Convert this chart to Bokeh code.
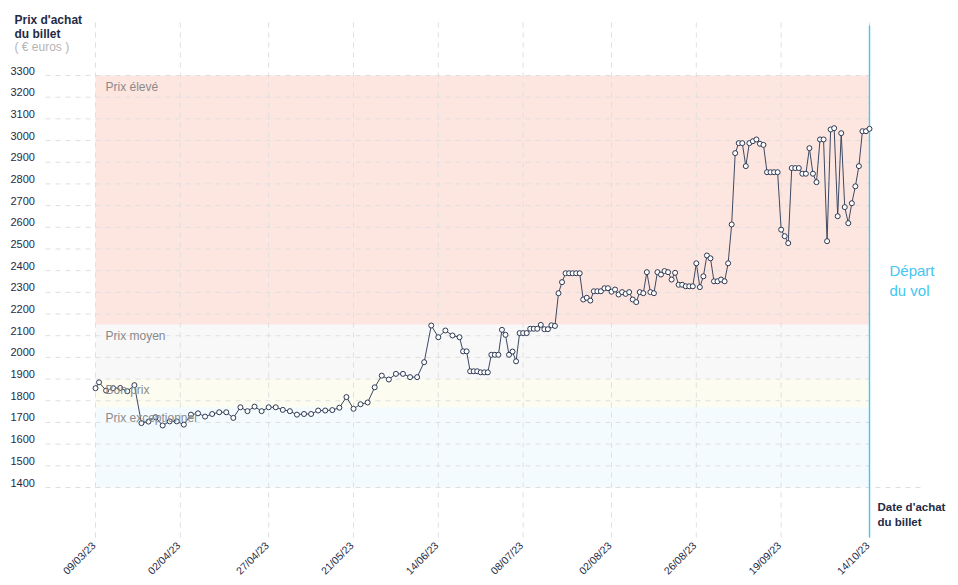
import math
import pandas as pd
from bokeh.plotting import figure
from bokeh.models import Range1d, Label
from bokeh.embed import file_html
from bokeh.resources import INLINE

# ---------------- data ----------------
purchase_dates = [
    "2023-03-09", "2023-03-10", "2023-03-12", "2023-03-14", "2023-03-16", "2023-03-18", "2023-03-20",
    "2023-03-22", "2023-03-24", "2023-03-26", "2023-03-28", "2023-03-30",
    "2023-04-01", "2023-04-03", "2023-04-05", "2023-04-07", "2023-04-09", "2023-04-11", "2023-04-13",
    "2023-04-15", "2023-04-17", "2023-04-19", "2023-04-21", "2023-04-23", "2023-04-25", "2023-04-27",
    "2023-04-29",
    "2023-05-01", "2023-05-03", "2023-05-05", "2023-05-07", "2023-05-09", "2023-05-11", "2023-05-13",
    "2023-05-15", "2023-05-17", "2023-05-19", "2023-05-21", "2023-05-23", "2023-05-25", "2023-05-27",
    "2023-05-29", "2023-05-31",
    "2023-06-02", "2023-06-04", "2023-06-06", "2023-06-08", "2023-06-10", "2023-06-12", "2023-06-14",
    "2023-06-16", "2023-06-18", "2023-06-20",
    "2023-06-21", "2023-06-22", "2023-06-23", "2023-06-24", "2023-06-25", "2023-06-26", "2023-06-27",
    "2023-06-28", "2023-06-29", "2023-06-30",
    "2023-07-01", "2023-07-02", "2023-07-03", "2023-07-04", "2023-07-05", "2023-07-06", "2023-07-07",
    "2023-07-08", "2023-07-09", "2023-07-10", "2023-07-11", "2023-07-12", "2023-07-13", "2023-07-14",
    "2023-07-15", "2023-07-16", "2023-07-17", "2023-07-18", "2023-07-19", "2023-07-20", "2023-07-21",
    "2023-07-22", "2023-07-23", "2023-07-24", "2023-07-25", "2023-07-26", "2023-07-27", "2023-07-28",
    "2023-07-29", "2023-07-30", "2023-07-31",
    "2023-08-01", "2023-08-02", "2023-08-03", "2023-08-04", "2023-08-05", "2023-08-06", "2023-08-07",
    "2023-08-08", "2023-08-09", "2023-08-10", "2023-08-11", "2023-08-12", "2023-08-13", "2023-08-14",
    "2023-08-15", "2023-08-16", "2023-08-17", "2023-08-18", "2023-08-19", "2023-08-20", "2023-08-21",
    "2023-08-22", "2023-08-23", "2023-08-24", "2023-08-25", "2023-08-26", "2023-08-27", "2023-08-28",
    "2023-08-29", "2023-08-30", "2023-08-31",
    "2023-09-01", "2023-09-02", "2023-09-03", "2023-09-04", "2023-09-05", "2023-09-06", "2023-09-07",
    "2023-09-08", "2023-09-09", "2023-09-10", "2023-09-11", "2023-09-12", "2023-09-13", "2023-09-14",
    "2023-09-15", "2023-09-16", "2023-09-17", "2023-09-18", "2023-09-19", "2023-09-20", "2023-09-21",
    "2023-09-22", "2023-09-23", "2023-09-24", "2023-09-25", "2023-09-26", "2023-09-27", "2023-09-28",
    "2023-09-29", "2023-09-30",
    "2023-10-01", "2023-10-02", "2023-10-03", "2023-10-04", "2023-10-05", "2023-10-06", "2023-10-07",
    "2023-10-08", "2023-10-09", "2023-10-10", "2023-10-11", "2023-10-12", "2023-10-13", "2023-10-14",
]

prices = [
    1858, 1885, 1847, 1858, 1859, 1844, 1872,
    1697, 1704, 1724, 1686, 1705,
    1705, 1690, 1736, 1742, 1727, 1739, 1747,
    1747, 1721, 1770, 1752, 1773, 1752, 1770,
    1770,
    1758, 1752, 1736, 1739, 1739, 1755, 1755,
    1757, 1768, 1817, 1763, 1784, 1792, 1862,
    1916, 1898,
    1924, 1924, 1909, 1909, 1978, 2147, 2093,
    2124, 2101, 2093,
    2028, 2028, 1936, 1936, 1936, 1931, 1931,
    1931, 2012, 2012,
    2012, 2127, 2104, 2012, 2027, 1982, 2112,
    2112, 2112, 2132, 2132, 2132, 2150, 2130,
    2130, 2148, 2145, 2296, 2347, 2388, 2388,
    2388, 2388, 2388, 2267, 2275, 2262, 2305,
    2305, 2305, 2319,
    2319, 2303, 2313, 2290, 2301, 2293, 2301,
    2267, 2255, 2301, 2296, 2393, 2301, 2296,
    2393, 2382, 2398, 2393, 2359, 2390, 2335,
    2335, 2328, 2328, 2328, 2434, 2324, 2374,
    2470, 2457, 2351,
    2351, 2359, 2351, 2434, 2613, 2942, 2988,
    2988, 2882, 2988, 2997, 3005, 2985, 2980,
    2854, 2854, 2854, 2854, 2589, 2559, 2527,
    2873, 2873, 2873, 2847, 2847, 2965, 2847,
    2808, 3005,
    3005, 2536, 3051, 3057, 2651, 3034, 2693,
    2619, 2711, 2789, 2882, 3043, 3043, 3054,
]

y_ticks = [1400, 1500, 1600, 1700, 1800, 1900, 2000, 2100, 2200, 2300,
           2400, 2500, 2600, 2700, 2800, 2900, 3000, 3100, 3200, 3300]
x_ticks = ["2023-03-09", "2023-04-02", "2023-04-27", "2023-05-21", "2023-06-14",
           "2023-07-08", "2023-08-02", "2023-08-26", "2023-09-19", "2023-10-14"]
x_tick_labels = ["09/03/23", "02/04/23", "27/04/23", "21/05/23", "14/06/23",
                 "08/07/23", "02/08/23", "26/08/23", "19/09/23", "14/10/23"]

band_names = ["Prix élevé", "Prix moyen", "Bon prix", "Prix exceptionnel"]
band_tops = [3300, 2150, 1900, 1770]
band_bottoms = [2150, 1900, 1770, 1400]
band_colors = ["#fee6e0", "#f8f8f9", "#fcfcf1", "#f3fbfe"]
band_start = "2023-03-09"
departure = "2023-10-14"

# ---------------- layout (pixels inside the figure) ----------------
W, H = 950, 577
FONT = "Liberation Sans"
NAVY = "#1f2b46"
CYAN = "#43c6f0"
GRID = "#dfdfdf"

base = pd.Timestamp(x_ticks[0])
last = pd.Timestamp(x_ticks[-1])
X_FIRST_PX, X_LAST_PX = 95, 869          # pixel of first / last tick
Y_TOP_PX, Y_BOT_PX = 75, 487             # pixel (from top) of 3300 / 1400
ppd = (X_LAST_PX - X_FIRST_PX) / (last - base).days
ppu = (Y_BOT_PX - Y_TOP_PX) / (y_ticks[-1] - y_ticks[0])


def x_at(px):
    return (base + pd.Timedelta(days=(px - X_FIRST_PX) / ppd)).to_pydatetime()


def y_at(py):
    return y_ticks[-1] - (py - Y_TOP_PX) / ppu


p = figure(width=W, height=H,
           x_range=Range1d(x_at(0), x_at(W)), y_range=Range1d(y_at(H), y_at(0)),
           x_axis_type=None, y_axis_type=None,
           toolbar_location=None, output_backend="svg",
           min_border=0, outline_line_color=None,
           background_fill_color="white", border_fill_color="white")

dates = [d.to_pydatetime() for d in pd.to_datetime(purchase_dates)]
tick_dates = [d.to_pydatetime() for d in pd.to_datetime(x_ticks)]
b_start = pd.Timestamp(band_start).to_pydatetime()
dep = pd.Timestamp(departure).to_pydatetime()

# price bands
p.quad(left=[b_start] * len(band_tops), right=[dep] * len(band_tops),
       top=band_tops, bottom=band_bottoms, fill_color=band_colors, line_color=None)

# horizontal grid
gx0 = x_at(45)
gx1 = x_at(869)
gx1_axis = x_at(920)
p.segment(x0=[gx0] * len(y_ticks),
          x1=[gx1_axis if t == y_ticks[0] else gx1 for t in y_ticks],
          y0=y_ticks, y1=y_ticks,
          line_color=GRID, line_width=1, line_dash="5 5")

# vertical grid
p.segment(x0=tick_dates, x1=tick_dates,
          y0=[y_at(537)] * len(tick_dates), y1=[y_at(22)] * len(tick_dates),
          line_color=GRID, line_width=1, line_dash="5 5")

# departure line
p.segment(x0=[dep], x1=[dep], y0=[y_at(537)], y1=[y_at(25)],
          line_color=CYAN, line_width=1.4)

# price line
p.line(dates, prices, line_color="#3d4862", line_width=1)
p.scatter(dates, prices, marker="circle", size=5, fill_color="white",
          line_color="#2c3853", line_width=1)

# band labels
for name, top in zip(band_names, band_tops):
    p.add_layout(Label(x=b_start, y=top, x_offset=10, y_offset=-11, text=name,
                       text_font=FONT, text_font_size="12px", text_color="#8a8a8a",
                       text_baseline="middle"))

# y tick labels
for t in y_ticks:
    p.add_layout(Label(x=10, x_units="screen", y=t, y_offset=5, text=str(t),
                       text_font=FONT, text_font_size="11px", text_color=NAVY,
                       text_baseline="middle"))

# x tick labels
for d, lab in zip(tick_dates, x_tick_labels):
    p.add_layout(Label(x=d, y=H - 543, y_units="screen", x_offset=-2, text=lab,
                       angle=math.pi / 4, text_font=FONT, text_font_size="10.5px",
                       text_color=NAVY, text_align="right", text_baseline="middle"))


# titles
def screen_label(txt, x, ytop, size="12px", color=NAVY, style="normal"):
    p.add_layout(Label(x=x, y=H - ytop, x_units="screen", y_units="screen", text=txt,
                       text_font=FONT, text_font_size=size, text_color=color,
                       text_font_style=style, text_baseline="middle"))


screen_label("Prix d'achat", 14, 19, style="bold")
screen_label("du billet", 14, 33.5, style="bold")
screen_label("( € euros )", 14, 46.5, color="#b4b4b4")
screen_label("Date d'achat", 877, 506, size="11.5px", style="bold")
screen_label("du billet", 877, 521.5, size="11.5px", style="bold")
screen_label("Départ", 889, 270, size="15px", color=CYAN)
screen_label("du vol", 889, 290, size="15px", color=CYAN)

open("out.html", "w").write(file_html(p, INLINE))
